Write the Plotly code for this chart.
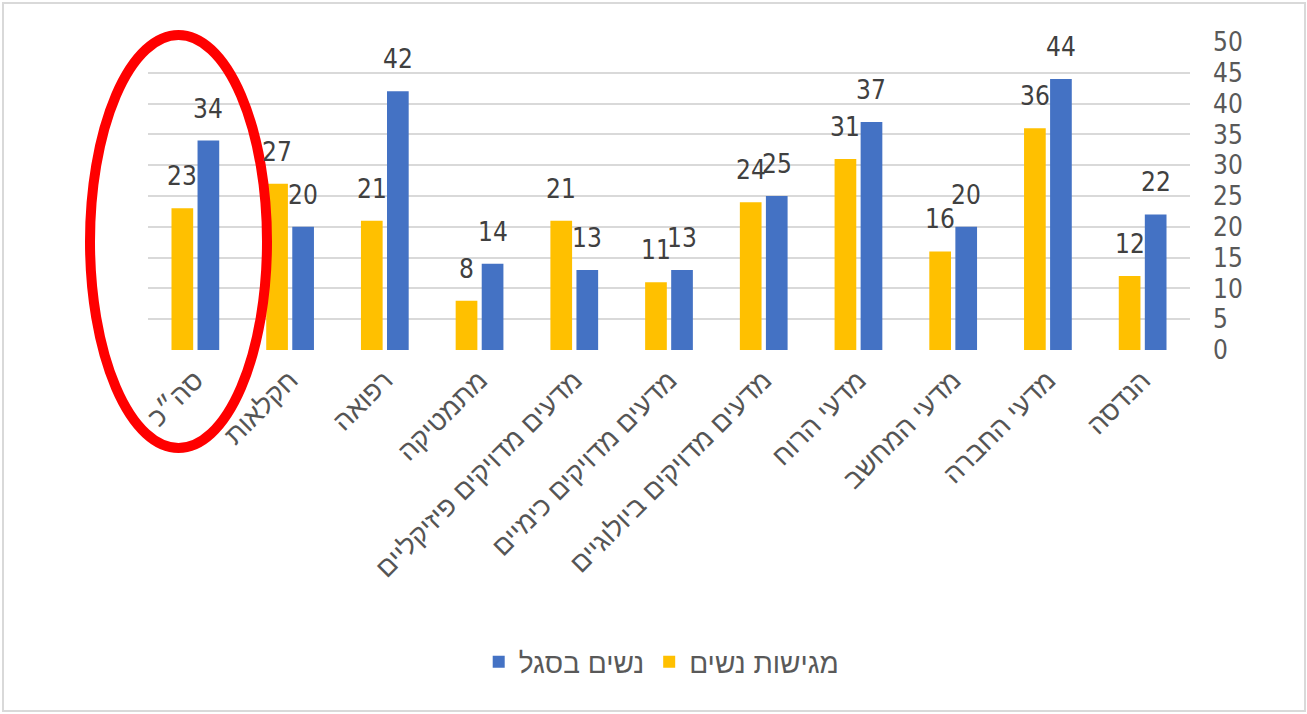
import plotly.graph_objects as go

# Categories (faculties) and the two series
categories = [
    "סה״כ",
    "חקלאות",
    "רפואה",
    "מתמטיקה",
    "מדעים מדויקים פיזיקליים",
    "מדעים מדויקים כימיים",
    "מדעים מדויקים ביולוגיים",
    "מדעי הרוח",
    "מדעי המחשב",
    "מדעי החברה",
    "הנדסה",
]
applicants_women = [23, 27, 21, 8, 21, 11, 24, 31, 16, 36, 12]
faculty_women = [34, 20, 42, 14, 13, 13, 25, 37, 20, 44, 22]

series_names = ["מגישות נשים", "נשים בסגל"]
series_colors = ["#FFC000", "#4472C4"]
y_ticks = [0, 5, 10, 15, 20, 25, 30, 35, 40, 45, 50]

BAR_W = 0.229
OFFSETS = [-0.252, 0.023]

NUM_FONT = "Liberation Sans Narrow, DejaVu Sans Condensed, Liberation Sans, sans-serif"
HEB_FONT = "Liberation Sans, DejaVu Sans, sans-serif"

x_idx = list(range(len(categories)))

fig = go.Figure()
for name, color, vals, off in zip(series_names, series_colors,
                                  [applicants_women, faculty_women], OFFSETS):
    fig.add_trace(go.Bar(
        x=x_idx, y=vals, name=name,
        marker=dict(color=color, line=dict(width=0)),
        width=BAR_W, offset=off,
    ))

# value labels above each bar
annotations = []
for vals, off in zip([applicants_women, faculty_women], OFFSETS):
    for i, v in enumerate(vals):
        annotations.append(dict(
            x=i + off + BAR_W / 2, y=v, xref="x", yref="y",
            text=str(v), showarrow=False, yshift=32,
            xanchor="center", yanchor="middle",
            font=dict(family=NUM_FONT, size=26, color="#404040"),
        ))

# plot area spans x 148..1190 px, y 42..350 px
def px_x(p):
    return (p - 148) / 1042.0

def px_y(p):
    return (350 - p) / 308.0

shapes = [
    # outer chart frame
    dict(type="rect", xref="paper", yref="paper",
         x0=px_x(3), x1=px_x(1305), y0=px_y(711), y1=px_y(3),
         line=dict(color="#d9d9d9", width=2), layer="below"),
    # red highlight ellipse around the total
    dict(type="circle", xref="paper", yref="paper",
         x0=px_x(90), x1=px_x(267), y0=px_y(448), y1=px_y(35),
         line=dict(color="#FF0000", width=10), layer="above"),
]

fig.update_layout(
    width=1307, height=714,
    margin=dict(l=148, r=117, t=42, b=364),
    paper_bgcolor="white", plot_bgcolor="white",
    barmode="overlay",
    showlegend=True,
    legend=dict(orientation="h", x=0.493, xanchor="center",
                y=px_y(662), yanchor="middle",
                traceorder="reversed",
                font=dict(family=HEB_FONT, size=28, color="#595959"),
                itemsizing="constant"),
    annotations=annotations,
    shapes=shapes,
    xaxis=dict(
        range=[-0.5, len(categories) - 0.5],
        tickmode="array", tickvals=x_idx, ticktext=categories,
        tickangle=-45, showgrid=False, zeroline=False, showline=False,
        ticks="", ticklabelstandoff=8,
        tickfont=dict(family=HEB_FONT, size=27, color="#555555"),
    ),
    yaxis=dict(
        side="right", range=[0, 50], tickmode="array", tickvals=y_ticks,
        showgrid=True, gridcolor="#d9d9d9", gridwidth=2,
        zeroline=False, showline=False, ticks="",
        ticklabelstandoff=22,
        tickfont=dict(family=NUM_FONT, size=26, color="#595959"),
    ),
)

fig.write_html("out.html")
